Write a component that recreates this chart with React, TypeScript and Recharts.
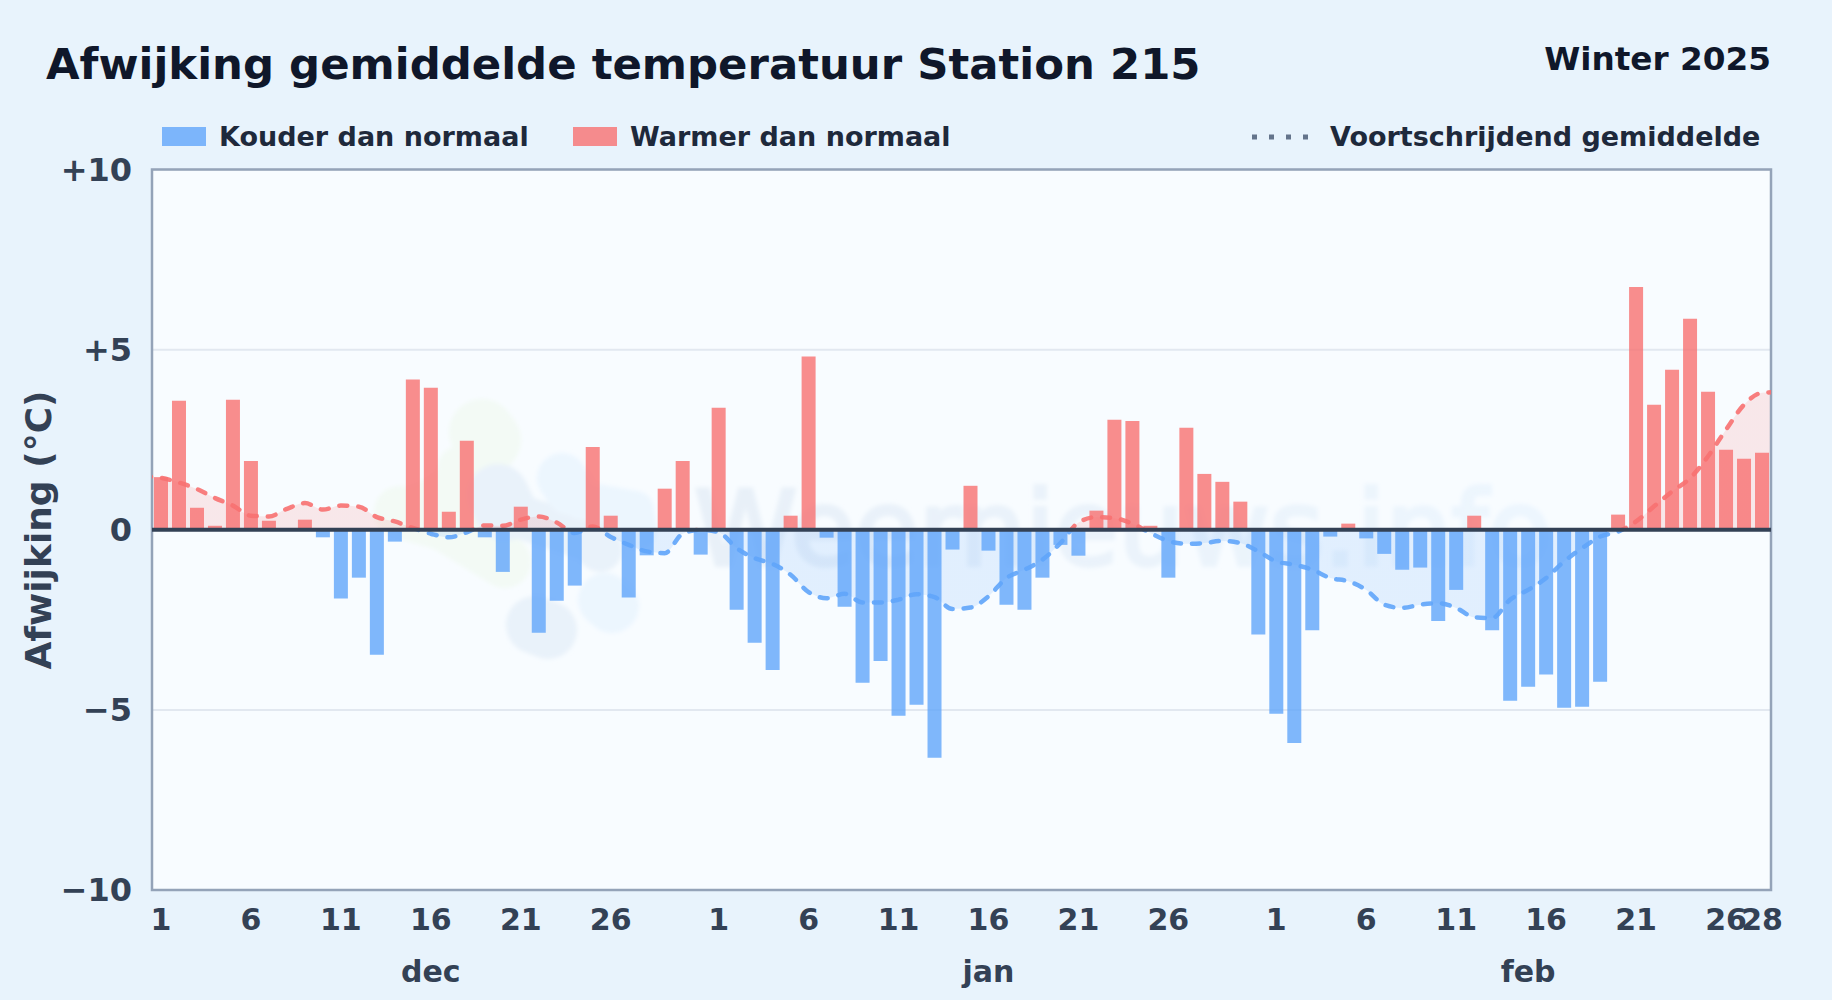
import React from "react";
import {
  ComposedChart, Bar, Line, Area, XAxis, YAxis, CartesianGrid, ReferenceLine, ReferenceArea, Legend, Customized,
} from "recharts";

const decValues = [1.46, 3.58, 0.61, 0.11, 3.61, 1.91, 0.25, 0, 0.28, -0.21, -1.91, -1.33, -3.47, -0.33, 4.17, 3.94, 0.5, 2.47, -0.21, -1.17, 0.64, -2.86, -1.97, -1.55, 2.3, 0.39, -1.88, -0.71, 1.14, 1.91, -0.69];
const janValues = [3.39, -2.22, -3.14, -3.89, 0.39, 4.81, -0.22, -2.14, -4.25, -3.64, -5.16, -4.86, -6.33, -0.55, 1.22, -0.58, -2.08, -2.22, -1.33, -0.42, -0.72, 0.53, 3.05, 3.02, 0.11, -1.33, 2.83, 1.55, 1.33, 0.78, -2.91];
const febValues = [-5.11, -5.92, -2.79, -0.19, 0.17, -0.24, -0.67, -1.11, -1.05, -2.53, -1.67, 0.39, -2.79, -4.75, -4.36, -4.02, -4.94, -4.91, -4.22, 0.42, 6.74, 3.47, 4.44, 5.86, 3.83, 2.22, 1.97, 2.14];

const decAvg = [1.44, 1.31, 1.13, 0.88, 0.67, 0.39, 0.37, 0.58, 0.74, 0.56, 0.67, 0.64, 0.35, 0.23, 0.05, -0.11, -0.21, -0.07, 0.12, 0.11, 0.28, 0.37, 0.2, -0.09, 0.09, -0.2, -0.42, -0.6, -0.65, -0.11, 0.0];
const janAvg = [-0.07, -0.51, -0.79, -0.95, -1.25, -1.73, -1.9, -1.78, -2.02, -2.02, -1.94, -1.79, -1.87, -2.2, -2.16, -1.85, -1.34, -1.11, -0.83, -0.37, 0.2, 0.35, 0.32, 0.17, -0.09, -0.31, -0.39, -0.37, -0.31, -0.37, -0.6];
const febAvg = [-0.88, -0.97, -1.11, -1.34, -1.43, -1.67, -2.08, -2.17, -2.08, -2.04, -2.17, -2.43, -2.45, -1.94, -1.67, -1.34, -0.88, -0.51, -0.19, -0.05, 0.23, 0.65, 1.06, 1.43, 2.04, 2.78, 3.47, 3.8];
const avgBeforeStart = 1.48;
const avgAfterEnd = 3.82;

const dayTicksDec = [1, 6, 11, 16, 21, 26];
const dayTicksJan = [1, 6, 11, 16, 21, 26];
const dayTicksFeb = [1, 6, 11, 16, 21, 26, 28];
const monthNames = ["dec", "jan", "feb"];
const monthCentreDays = [16, 16, 15];
const yTicks = [-10, -5, 0, 5, 10];

const title = "Afwijking gemiddelde temperatuur Station 215";
const subtitle = "Winter 2025";
const coldName = "Kouder dan normaal";
const warmName = "Warmer dan normaal";
const avgName = "Voortschrijdend gemiddelde";
const yTitle = "Afwijking (°C)";
const watermark = "Weernieuws.info";

const decLen = decValues.length;
const janLen = janValues.length;
const values = [...decValues, ...janValues, ...febValues];
const avgs = [...decAvg, ...janAvg, ...febAvg];
const total = values.length;

const rows: any[] = [
  { x: 0, avg: avgBeforeStart },
  ...values.map((v, i) => ({
    x: i + 1,
    warm: v > 0 ? v : null,
    cold: v < 0 ? v : null,
    avg: avgs[i],
  })),
  { x: total + 1, avg: avgAfterEnd },
];

const xTicks = [
  ...dayTicksDec,
  ...dayTicksJan.map((d) => d + decLen),
  ...dayTicksFeb.map((d) => d + decLen + janLen),
];
const monthTicks = [
  monthCentreDays[0],
  monthCentreDays[1] + decLen,
  monthCentreDays[2] + decLen + janLen,
];

const dayLabel = (x: number) => {
  if (x <= decLen) return String(x);
  if (x <= decLen + janLen) return String(x - decLen);
  return String(x - decLen - janLen);
};
const monthLabel = (x: number) => monthNames[monthTicks.indexOf(x)] ?? "";
const yLabel = (v: number) => (v > 0 ? `+${v}` : v < 0 ? `\u2212${-v}` : "0");

const FONT = '"DejaVu Sans", sans-serif';
const BG = "#e8f3fc";
const PLOT = "#f8fcff";
const BLUE = "#60a5fa";
const RED = "#f87171";
const W = 1832;
const H = 1000;
const M = { top: 169.5, right: 61, bottom: 0, left: 0 };

const xTickStyle = { fontFamily: FONT, fontWeight: 700, fontSize: 30, fill: "#334155" };
const yTickStyle = { fontFamily: FONT, fontWeight: 700, fontSize: 32, fill: "#334155" };

const Backdrop = () => (
  <g style={{ pointerEvents: "none" }}>
    <defs>
      <filter id="soft" x="-20%" y="-20%" width="140%" height="140%">
        <feGaussianBlur stdDeviation="2" />
      </filter>
      <linearGradient id="markFill" x1="0" x2="1" y1="0" y2="0">
        <stop offset="0" stopColor="#e8f0f8" />
        <stop offset="1" stopColor="#edf6fe" />
      </linearGradient>
    </defs>
    <g filter="url(#soft)" fill="none" strokeLinecap="round" strokeLinejoin="round">
      <g stroke="#f3faf5">
        <path d="M482 432 L488 440" strokeWidth={66} />
        <path d="M468 465 Q450 500 400 512" strokeWidth={44} />
        <path d="M400 512 L445 525 L505 562" strokeWidth={52} />
        <path d="M462 470 L480 540" strokeWidth={50} />
      </g>
      <g stroke="#e9f2fa">
        <path d="M498 495 L505 510" strokeWidth={62} />
        <path d="M515 515 L590 540 L600 550" strokeWidth={44} />
        <path d="M535 625 L548 630" strokeWidth={58} />
      </g>
      <g stroke="#ecf6fe">
        <path d="M562 478 L570 490" strokeWidth={50} />
        <path d="M580 500 L635 510 L638 530" strokeWidth={38} />
        <path d="M605 600 L612 606" strokeWidth={54} />
      </g>
    </g>
    <text
      x={1123}
      y={565}
      textAnchor="middle"
      fontFamily={FONT}
      fontWeight={400}
      fontSize={104}
      fill="url(#markFill)"
      stroke="url(#markFill)"
      strokeWidth={4}
      filter="url(#soft)"
    >
      {watermark}
    </text>
  </g>
);

const Head = () => (
  <g fontFamily={FONT} fontWeight={700}>
    <text x={46} y={79} fontSize={43.4} fill="#0f172a">{title}</text>
    <text x={1771} y={70} fontSize={32.7} fill="#0f172a" textAnchor="end">{subtitle}</text>
    <text
      x={51}
      y={530}
      fontSize={36}
      fill="#334155"
      textAnchor="middle"
      transform="rotate(-90 51 530)"
    >
      {yTitle}
    </text>
  </g>
);

const LegendRow = () => {
  const text: React.CSSProperties = {
    position: "absolute", top: 121, fontFamily: FONT, fontWeight: 700, fontSize: 27,
    color: "#1e293b", lineHeight: "32px", whiteSpace: "nowrap",
  };
  const swatch: React.CSSProperties = { position: "absolute", top: 127, width: 44, height: 19 };
  return (
    <div style={{ position: "absolute", left: 0, top: 0, width: W, height: 0 }}>
      <span style={{ ...swatch, left: 162, background: BLUE, opacity: 0.8 }} />
      <span style={{ ...text, left: 219 }}>{coldName}</span>
      <span style={{ ...swatch, left: 573, background: RED, opacity: 0.8 }} />
      <span style={{ ...text, left: 630 }}>{warmName}</span>
      <svg style={{ position: "absolute", left: 1250, top: 130, width: 60, height: 14 }}>
        <line x1={2} x2={58} y1={7} y2={7} stroke="#64748b" strokeWidth={5} strokeDasharray="5 12" />
      </svg>
      <span style={{ ...text, left: 1330 }}>{avgName}</span>
    </div>
  );
};

export default function App() {
  return (
    <div style={{ position: "absolute", left: 0, top: 0, width: W, height: H, background: BG, overflow: "hidden" }}>
      <ComposedChart width={W} height={H} data={rows} margin={M} barGap={0}>
        <defs>
          <linearGradient id="avgStroke" gradientUnits="userSpaceOnUse" x1={0} x2={0} y1={169.5} y2={890}>
            <stop offset="0.5" stopColor={RED} />
            <stop offset="0.5" stopColor={BLUE} />
          </linearGradient>
          <linearGradient id="avgFill" gradientUnits="userSpaceOnUse" x1={0} x2={0} y1={169.5} y2={890}>
            <stop offset="0.5" stopColor={RED} stopOpacity={0.15} />
            <stop offset="0.5" stopColor={BLUE} stopOpacity={0.15} />
          </linearGradient>
        </defs>
        <CartesianGrid vertical={false} fill={PLOT} stroke="#e2e8f0" strokeWidth={2} />
        <Customized component={Backdrop} />
        <XAxis
          type="number"
          dataKey="x"
          domain={[0.5, total + 0.5]}
          ticks={xTicks}
          interval={0}
          tickFormatter={dayLabel}
          tick={xTickStyle}
          axisLine={false}
          tickLine={false}
          height={50}
          tickMargin={13}
          allowDataOverflow
        />
        <XAxis
          xAxisId="month"
          type="number"
          dataKey="x"
          domain={[0.5, total + 0.5]}
          ticks={monthTicks}
          interval={0}
          tickFormatter={monthLabel}
          tick={xTickStyle}
          axisLine={false}
          tickLine={false}
          height={60}
          tickMargin={15}
          allowDataOverflow
        />
        <YAxis
          domain={[-10, 10]}
          ticks={yTicks}
          interval={0}
          tickFormatter={yLabel}
          tick={yTickStyle}
          axisLine={false}
          tickLine={false}
          width={152}
          tickMargin={14}
          allowDataOverflow
        />
        <Area
          dataKey="avg"
          name={avgName}
          type="monotone"
          baseValue={0}
          stroke="none"
          fill="url(#avgFill)"
          fillOpacity={1}
          dot={false}
          activeDot={false}
          legendType="none"
          isAnimationActive={false}
          connectNulls
        />
        <Line
          dataKey="avg"
          name={avgName}
          type="monotone"
          stroke="url(#avgStroke)"
          strokeWidth={4.5}
          strokeDasharray="8 11"
          strokeLinecap="round"
          strokeOpacity={0.9}
          dot={false}
          activeDot={false}
          isAnimationActive={false}
          connectNulls
        />
        <Bar dataKey="cold" name={coldName} stackId="d" fill={BLUE} fillOpacity={0.8} barSize={14} isAnimationActive={false} />
        <Bar dataKey="warm" name={warmName} stackId="d" fill={RED} fillOpacity={0.8} barSize={14} isAnimationActive={false} />
        <ReferenceLine y={0} stroke="#334155" strokeWidth={4} />
        <ReferenceArea x1={0.5} x2={total + 0.5} y1={-10} y2={10} fill="none" stroke="#94a3b8" strokeWidth={2.5} />
        <Legend content={() => <LegendRow />} wrapperStyle={{ position: "absolute", left: 0, top: 0, width: W, height: 0 }} />
        <Customized component={Head} />
      </ComposedChart>
    </div>
  );
}
